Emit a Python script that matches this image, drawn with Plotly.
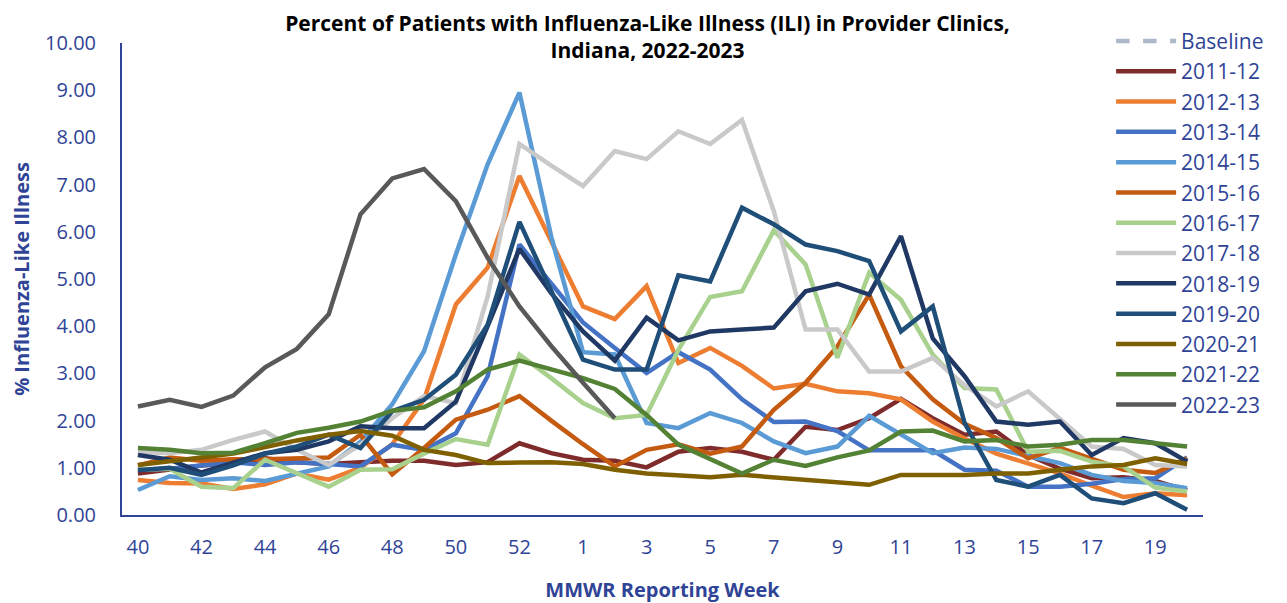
import plotly.graph_objects as go

weeks = [str(w) for w in range(40, 54)] + [str(w) for w in range(1, 21)]
tick_labels = weeks[::2]

s2011_12 = [0.88, 0.96, 1.05, 1.10, 1.20, 1.12, 1.08, 1.12, 1.15, 1.15, 1.06, 1.12, 1.52, 1.31, 1.17, 1.15, 1.01, 1.34, 1.42, 1.34, 1.17, 1.87, 1.80, 2.05, 2.46, 2.05, 1.70, 1.77, 1.27, 0.98, 0.78, 0.80, 0.72, 0.52]
s2012_13 = [0.74, 0.68, 0.67, 0.55, 0.65, 0.88, 0.75, 1.00, 1.50, 2.45, 4.46, 5.24, 7.18, 5.80, 4.42, 4.15, 4.85, 3.22, 3.54, 3.16, 2.68, 2.78, 2.62, 2.58, 2.45, 1.98, 1.62, 1.30, 1.08, 0.88, 0.62, 0.38, 0.46, 0.42]
s2013_14 = [0.96, 0.98, 1.05, 1.12, 1.06, 1.12, 1.08, 1.03, 1.49, 1.38, 1.73, 2.94, 5.73, 4.92, 4.08, 3.54, 3.01, 3.45, 3.08, 2.45, 1.97, 1.98, 1.78, 1.37, 1.37, 1.37, 0.96, 0.94, 0.60, 0.60, 0.66, 0.76, 0.78, 1.22]
s2014_15 = [0.53, 0.82, 0.74, 0.78, 0.72, 0.88, 1.03, 1.55, 2.35, 3.47, 5.52, 7.43, 8.95, 5.90, 3.45, 3.40, 1.95, 1.84, 2.16, 1.95, 1.56, 1.31, 1.45, 2.10, 1.70, 1.31, 1.43, 1.40, 1.25, 1.10, 0.85, 0.72, 0.68, 0.57]
s2015_16 = [1.05, 1.22, 1.15, 1.18, 1.18, 1.20, 1.22, 1.70, 0.86, 1.42, 2.02, 2.23, 2.52, 2.00, 1.50, 1.03, 1.38, 1.50, 1.30, 1.45, 2.23, 2.80, 3.57, 4.67, 3.15, 2.45, 1.93, 1.63, 1.20, 1.42, 1.20, 0.96, 0.89, 1.20]
s2016_17 = [0.96, 0.98, 0.60, 0.57, 1.17, 0.88, 0.60, 0.96, 0.97, 1.30, 1.61, 1.49, 3.40, 2.90, 2.37, 2.05, 2.12, 3.50, 4.62, 4.74, 6.03, 5.31, 3.33, 5.13, 4.56, 3.40, 2.69, 2.66, 1.34, 1.36, 1.13, 1.03, 0.58, 0.50]
s2017_18 = [1.34, 1.31, 1.38, 1.59, 1.77, 1.38, 1.06, 1.49, 2.05, 2.52, 2.37, 4.63, 7.86, 7.40, 6.97, 7.71, 7.54, 8.13, 7.86, 8.37, 6.44, 3.93, 3.93, 3.04, 3.04, 3.33, 2.75, 2.30, 2.62, 2.04, 1.45, 1.40, 1.06, 1.03]
s2018_19 = [1.27, 1.17, 0.90, 1.10, 1.31, 1.38, 1.56, 1.88, 1.84, 1.84, 2.40, 4.00, 5.64, 4.70, 3.89, 3.27, 4.18, 3.70, 3.89, 3.93, 3.97, 4.74, 4.90, 4.67, 5.91, 3.74, 2.94, 1.98, 1.91, 1.98, 1.27, 1.63, 1.52, 1.13]
s2019_20 = [0.95, 1.00, 0.85, 1.05, 1.30, 1.45, 1.70, 1.42, 2.20, 2.44, 2.97, 4.03, 6.21, 4.75, 3.29, 3.08, 3.08, 5.08, 4.95, 6.51, 6.16, 5.73, 5.59, 5.38, 3.89, 4.42, 1.95, 0.74, 0.60, 0.85, 0.35, 0.25, 0.46, 0.11]
s2020_21 = [1.06, 1.15, 1.22, 1.30, 1.45, 1.58, 1.70, 1.78, 1.68, 1.38, 1.27, 1.10, 1.11, 1.12, 1.08, 0.96, 0.88, 0.83, 0.80, 0.85, 0.80, 0.74, 0.69, 0.64, 0.85, 0.85, 0.85, 0.88, 0.88, 0.96, 1.03, 1.06, 1.20, 1.08]
s2021_22 = [1.42, 1.38, 1.31, 1.32, 1.52, 1.74, 1.85, 1.98, 2.21, 2.28, 2.62, 3.08, 3.27, 3.08, 2.90, 2.67, 2.12, 1.49, 1.18, 0.88, 1.17, 1.04, 1.22, 1.37, 1.77, 1.79, 1.56, 1.59, 1.45, 1.49, 1.59, 1.59, 1.52, 1.45]
s2022_23 = [2.30, 2.44, 2.29, 2.53, 3.13, 3.52, 4.25, 6.37, 7.13, 7.33, 6.65, 5.45, 4.42, 3.58, 2.80, 2.05]

series = [
    ("2011-12", s2011_12, "#7F2B2B"),
    ("2012-13", s2012_13, "#ED7D31"),
    ("2013-14", s2013_14, "#4472C4"),
    ("2014-15", s2014_15, "#5B9BD5"),
    ("2015-16", s2015_16, "#C55A11"),
    ("2016-17", s2016_17, "#A9D18E"),
    ("2017-18", s2017_18, "#C9C9C9"),
    ("2018-19", s2018_19, "#203864"),
    ("2019-20", s2019_20, "#1F4E79"),
    ("2020-21", s2020_21, "#7F6000"),
    ("2021-22", s2021_22, "#548235"),
    ("2022-23", s2022_23, "#595959"),
]

AXIS_COLOR = "#2F4496"
FONT = "Open Sans"

fig = go.Figure()
fig.add_trace(go.Scatter(x=[None], y=[None], mode="lines", name="Baseline",
                         line=dict(color="#ADB9CA", width=4.5, dash="dash")))
for name, vals, color in series:
    fig.add_trace(go.Scatter(x=weeks[:len(vals)], y=vals, mode="lines", name=name,
                             line=dict(color=color, width=4.5)))

fig.update_layout(
    width=1279, height=595,
    margin=dict(l=114, r=84, t=35, b=88, autoexpand=False),
    paper_bgcolor="white", plot_bgcolor="white",
    font=dict(family=FONT, color=AXIS_COLOR),
    title=dict(text="<b>Percent of Patients with Influenza-Like Illness (ILI) in Provider Clinics,<br>Indiana, 2022-2023</b>",
               x=0.5, xanchor="center", xref="container",
               y=0.962, yanchor="middle", yref="container",
               font=dict(family=FONT, size=21, color="black")),
    showlegend=True,
    legend=dict(x=0.915, xanchor="left", y=1.047, yanchor="top",
                maxheight=560,
                font=dict(family=FONT, size=21, color=AXIS_COLOR),
                bgcolor="rgba(0,0,0,0)", tracegroupgap=0, itemwidth=60),
    xaxis=dict(type="category", categoryorder="array", categoryarray=weeks,
               range=[-0.5, 33.5], tickmode="array", tickvals=tick_labels, ticktext=tick_labels,
               showgrid=False, showline=True, linecolor=AXIS_COLOR, linewidth=2,
               ticks="", ticklabelstandoff=13, automargin=False,
               tickfont=dict(family=FONT, size=20, color=AXIS_COLOR),
               title=dict(text="<b>MMWR Reporting Week</b>", standoff=26,
                          font=dict(family=FONT, size=20, color=AXIS_COLOR))),
    yaxis=dict(range=[0, 10], tickmode="array", tickvals=list(range(0, 11)),
               tickformat=".2f", showgrid=False, zeroline=False,
               showline=True, linecolor=AXIS_COLOR, linewidth=2, ticks="",
               ticklabelstandoff=20, automargin=False,
               tickfont=dict(family=FONT, size=20, color=AXIS_COLOR),
               title=dict(text="<b>% Influenza-Like Illness</b>", standoff=18,
                          font=dict(family=FONT, size=20, color=AXIS_COLOR))),
)

fig.write_html("out.html")
